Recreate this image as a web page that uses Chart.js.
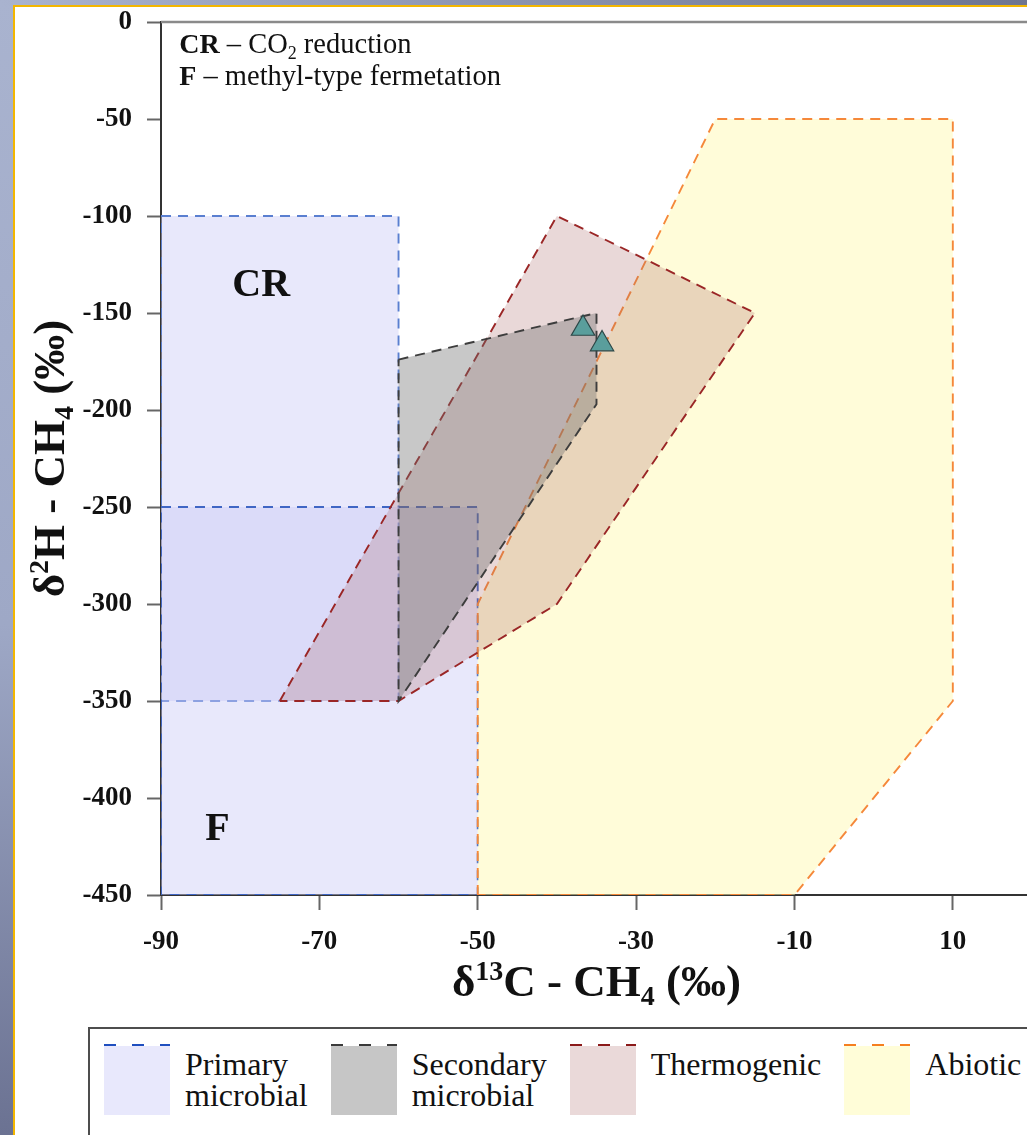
<!DOCTYPE html>
<html>
<head>
<meta charset="utf-8">
<script src="https://cdn.jsdelivr.net/npm/chart.js@4.4.0/dist/chart.umd.min.js"></script>
<style>
  html, body { margin: 0; padding: 0; }
  body {
    width: 1027px; height: 1135px; overflow: hidden; position: relative;
    background: linear-gradient(to bottom, #a9b3cf 0%, #9ea8c6 55%, #6b7292 100%);
    font-family: "Liberation Serif", "Times New Roman", serif;
  }
  #topstrip { position: absolute; left: 0; top: 0; width: 1027px; height: 6px;
    background: linear-gradient(to right, #a9b3cf, #6e7590); }
  #panel { position: absolute; left: 13px; top: 5px; width: 1100px; height: 1200px;
    background: #fff; border-left: 2.5px solid #f3b600; border-top: 2px solid #f3b600; }
  #chart { position: absolute; left: 0; top: 0; }
  #legend { position: absolute; left: 88px; top: 1027px; width: 1000px; height: 200px;
    border: 2px solid #4d4d4d; background: #fff; box-sizing: border-box;
    display: flex; gap: 23px; padding: 15px 0 0 14px; }
  .item { display: flex; align-items: flex-start; }
  .patch { width: 66px; height: 71px; position: relative; }
  .dash { position: absolute; left: 0; top: 0; width: 100%; height: 2px; }
  .label { margin-left: 15px; margin-top: 5px; font-size: 32px; line-height: 31px; color: #111; }
</style>
</head>
<body>
<div id="topstrip"></div>
<div id="panel"></div>
<canvas id="chart" width="1060" height="1020"></canvas>
<div id="legend"></div>
<script>
// axis ticks
var xTicks = [-90, -70, -50, -30, -10, 10];
var yTicks = [0, -50, -100, -150, -200, -250, -300, -350, -400, -450];

// genetic fields (polygon vertices, closed)
var primaryCR_x = [-90, -60, -60, -90, -90];
var primaryCR_y = [-100, -100, -350, -350, -100];
var primaryF_x = [-90, -50, -50, -90, -90];
var primaryF_y = [-250, -250, -450, -450, -250];
var secondary_x = [-60, -35, -35, -60, -60];
var secondary_y = [-174, -150, -197, -350, -174];
var thermo_x = [-75, -40, -15, -40, -60, -75];
var thermo_y = [-350, -100, -150, -300, -350, -350];
var abiotic_x = [-50, -50, -20, 10, 10, -10, -50];
var abiotic_y = [-450, -300, -50, -50, -350, -450, -450];

// samples
var sample_x = [-36.7, -34.3];
var sample_y = [-158, -166];

var legendNames = [['Primary', 'microbial'], ['Secondary', 'microbial'], ['Thermogenic'], ['Abiotic']];
var legendFill = ['#e8e8fc', '#c6c6c6', '#ead9d9', '#fffdd8'];
var legendDash = ['#1f4fbf', '#3a3a3a', '#8b1a1a', '#f57f20'];

function pts(xs, ys) {
  return xs.map(function (x, i) { return { x: x, y: ys[i] }; });
}
function field(label, xs, ys, fill, line, order) {
  return {
    label: label, data: pts(xs, ys), showLine: true, fill: 'shape',
    backgroundColor: fill, borderColor: line, borderWidth: 1.9, borderDash: [10, 7],
    pointRadius: 0, order: order
  };
}

var SERIF = '"Liberation Serif", "Times New Roman", serif';

function drawRuns(ctx, parts, x, y, align) {
  var w = 0;
  parts.forEach(function (p) { ctx.font = p.f; p.w = ctx.measureText(p.t).width; w += p.w; });
  var cx = align === 'center' ? x - w / 2 : x;
  parts.forEach(function (p) { ctx.font = p.f; ctx.fillText(p.t, cx, y + (p.dy || 0)); cx += p.w; });
}

var overlay = {
  id: 'overlay',
  afterDraw: function (chart) {
    var ctx = chart.ctx, a = chart.chartArea, xs = chart.scales.x, ys = chart.scales.y;
    ctx.save();
    // top frame line
    ctx.strokeStyle = '#8a8a8a';
    ctx.lineWidth = 2.5;
    ctx.beginPath(); ctx.moveTo(a.left, a.top); ctx.lineTo(a.right, a.top); ctx.stroke();

    ctx.fillStyle = '#111';
    ctx.textAlign = 'left';
    ctx.textBaseline = 'alphabetic';
    var B = 'bold 45px ' + SERIF, Bs = 'bold 28px ' + SERIF;
    // x title
    drawRuns(ctx, [
      { t: 'δ', f: B }, { t: '13', f: Bs, dy: -16 }, { t: 'C - CH', f: B },
      { t: '4', f: Bs, dy: 9 }, { t: ' (‰)', f: B }
    ], (a.left + a.right) / 2, a.bottom + 101, 'center');
    // y title
    ctx.save();
    ctx.translate(a.left - 97, (a.top + a.bottom) / 2);
    ctx.rotate(-Math.PI / 2);
    drawRuns(ctx, [
      { t: 'δ', f: B }, { t: '2', f: Bs, dy: -16 }, { t: 'H - CH', f: B },
      { t: '4', f: Bs, dy: 9 }, { t: ' (‰)', f: B }
    ], 0, 0, 'center');
    ctx.restore();

    // notes
    var nb = 'bold 28px ' + SERIF, nr = '28.5px ' + SERIF, ns = '18px ' + SERIF;
    drawRuns(ctx, [{ t: 'CR', f: nb }, { t: ' – CO', f: nr }, { t: '2', f: ns, dy: 6 }, { t: ' reduction', f: nr }],
      xs.getPixelForValue(-87.7), ys.getPixelForValue(-16), 'left');
    drawRuns(ctx, [{ t: 'F', f: nb }, { t: ' – methyl-type fermetation', f: nr }],
      xs.getPixelForValue(-87.7), ys.getPixelForValue(-32.5), 'left');
    ctx.font = 'bold 40px ' + SERIF;
    ctx.fillText('CR', xs.getPixelForValue(-81), ys.getPixelForValue(-141));
    ctx.fillText('F', xs.getPixelForValue(-84.4), ys.getPixelForValue(-421.5));
    ctx.restore();
  }
};

var tickFont = { family: SERIF, size: 27, weight: 'bold' };

new Chart(document.getElementById('chart'), {
  type: 'scatter',
  data: {
    datasets: [
      {
        label: 'Samples', data: pts(sample_x, sample_y), pointStyle: 'triangle',
        pointRadius: 13.5, backgroundColor: '#5a9e9c', borderColor: '#2c4747', borderWidth: 1.2, order: 0
      },
      field('Secondary microbial', secondary_x, secondary_y, 'rgba(110,110,110,0.38)', '#3d3d3d', 1),
      field('Thermogenic', thermo_x, thermo_y, 'rgba(167,99,99,0.25)', '#9a2626', 2),
      field('Abiotic', abiotic_x, abiotic_y, 'rgba(255,250,180,0.5)', '#f5883a', 3),
      field('Primary microbial F', primaryF_x, primaryF_y, 'rgba(204,204,247,0.45)', '#3f66c4', 4),
      field('Primary microbial CR', primaryCR_x, primaryCR_y, 'rgba(204,204,247,0.45)', '#5a7fd0', 5)
    ]
  },
  options: {
    responsive: false,
    animation: false,
    events: [],
    layout: { padding: { left: 0, top: 22, right: 28, bottom: 0 } },
    plugins: { legend: { display: false }, tooltip: { enabled: false } },
    scales: {
      x: {
        type: 'linear', min: -90, max: 20,
        afterBuildTicks: function (s) { s.ticks = xTicks.map(function (v) { return { value: v }; }); },
        afterFit: function (s) { s.height = 125; },
        ticks: { font: tickFont, color: '#111', padding: 16, autoSkip: false, maxRotation: 0 },
        grid: { drawOnChartArea: false, tickLength: 15, tickColor: '#666', tickWidth: 2 },
        border: { color: '#333', width: 2 }
      },
      y: {
        type: 'linear', min: -450, max: 0,
        afterBuildTicks: function (s) { s.ticks = yTicks.map(function (v) { return { value: v }; }); },
        afterFit: function (s) { s.width = 161; s.paddingTop = 0; s.paddingBottom = 0; },
        ticks: { font: tickFont, color: '#111', padding: 15, autoSkip: false },
        grid: { drawOnChartArea: false, tickLength: 14, tickColor: '#666', tickWidth: 2 },
        border: { color: '#333', width: 2 }
      }
    }
  },
  plugins: [overlay]
});

// legend
var lg = document.getElementById('legend');
legendNames.forEach(function (lines, i) {
  var item = document.createElement('div'); item.className = 'item';
  var patch = document.createElement('div'); patch.className = 'patch';
  patch.style.background = legendFill[i];
  var dash = document.createElement('div'); dash.className = 'dash';
  dash.style.background = 'repeating-linear-gradient(to right, ' + legendDash[i] + ' 0 12px, #fff 12px 28px)';
  patch.appendChild(dash);
  var label = document.createElement('div'); label.className = 'label';
  label.innerHTML = lines.join('<br>');
  item.appendChild(patch); item.appendChild(label);
  lg.appendChild(item);
});
</script>
</body>
</html>
